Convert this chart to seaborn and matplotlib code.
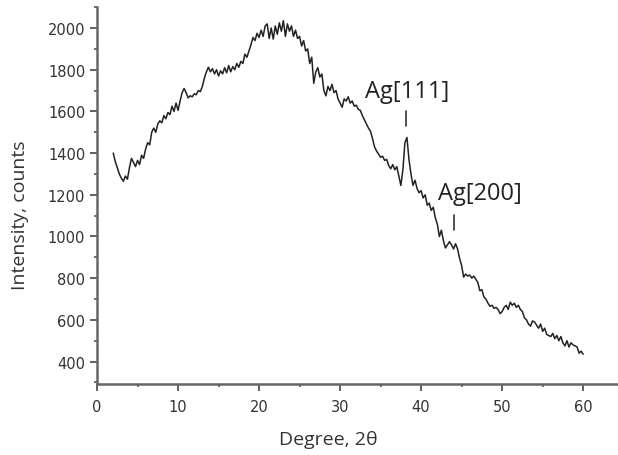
import numpy as np
import pandas as pd
import matplotlib
matplotlib.use("Agg")
import matplotlib.pyplot as plt
from matplotlib.ticker import MultipleLocator
import seaborn as sns

# ---- data ----
deg_start, deg_step = 2.0, 0.25
intensity = [
    1400, 1360, 1330, 1300,
    1280, 1265, 1290, 1275,
    1330, 1375, 1355, 1335,
    1365, 1345, 1390, 1375,
    1420, 1450, 1440, 1500,
    1520, 1500, 1540, 1555,
    1545, 1580, 1565, 1595,
    1585, 1625, 1600, 1640,
    1605, 1650, 1690, 1710,
    1690, 1665, 1675, 1670,
    1685, 1680, 1700, 1695,
    1720, 1760, 1790, 1812,
    1790, 1805, 1780, 1800,
    1770, 1795, 1780, 1810,
    1785, 1820, 1790, 1815,
    1800, 1830, 1812, 1840,
    1830, 1875, 1860, 1890,
    1920, 1955, 1940, 1975,
    1955, 1990, 1960, 2010,
    2020, 1950, 2000, 1947,
    2010, 1970, 2025, 1985,
    2035, 1960, 2020, 1985,
    2010, 1960, 1990, 1950,
    1960, 1914, 1940, 1890,
    1900, 1830, 1860, 1735,
    1790, 1810, 1765, 1780,
    1700, 1675, 1720, 1700,
    1730, 1690, 1700, 1660,
    1640, 1620, 1660, 1650,
    1670, 1640, 1650, 1625,
    1630, 1610, 1605, 1580,
    1560, 1540, 1520, 1505,
    1470, 1430, 1410, 1395,
    1380, 1385, 1365, 1370,
    1340, 1325, 1345, 1320,
    1335, 1290, 1245, 1320,
    1450, 1475, 1370, 1300,
    1245, 1270, 1230, 1210,
    1220, 1185, 1200, 1150,
    1160, 1125, 1140, 1090,
    1060, 1000, 1030, 980,
    945, 960, 975, 960,
    940, 965, 940, 895,
    860, 805, 820, 810,
    815, 800, 810, 795,
    780, 740, 745, 710,
    700, 680, 665, 670,
    655, 660, 650, 630,
    640, 660, 670, 650,
    685, 670, 680, 660,
    670, 650, 640, 610,
    600, 580, 570, 595,
    590, 575, 560, 580,
    545, 560, 530, 525,
    520, 535, 510, 525,
    500, 520, 490, 475,
    500, 470, 490, 480,
    475, 470, 440, 450,
    435,
]
degree = deg_start + deg_step * np.arange(len(intensity))

peak_labels = ["Ag[111]", "Ag[200]"]
peak_pos = [38.15, 44.1]
peak_tick_low = [1530, 1030]
peak_tick_high = [1600, 1105]
label_x = [33.1, 42.1]
label_y = [1670, 1180]

xticks = [0, 10, 20, 30, 40, 50, 60]
yticks = [400, 600, 800, 1000, 1200, 1400, 1600, 1800, 2000]

df = pd.DataFrame({"Degree": degree, "Intensity": intensity})

# ---- style ----
sns.set_style("ticks")
plt.rcParams["font.family"] = ["DejaVu Sans"]
label_font = ["Open Sans", "DejaVu Sans"]

fig = plt.figure(figsize=(6.18, 4.56), dpi=100)
ax = fig.add_axes([0.157, 0.156, 0.843, 0.826])

sns.lineplot(data=df, x="Degree", y="Intensity", ax=ax, color="#222222",
             linewidth=1.1, estimator=None, sort=False)

for lab, px, lo, hi, tx, ty in zip(peak_labels, peak_pos, peak_tick_low,
                                   peak_tick_high, label_x, label_y):
    ax.plot([px, px], [lo, hi], color="#333333", linewidth=1.2)
    ax.text(tx, ty, lab, fontsize=17, family=label_font,
            color="#222222", ha="left", va="baseline")

ax.set_xlim(0, 64.3)
ax.set_ylim(293, 2100)
ax.set_xticks(xticks)
ax.set_yticks(yticks)
ax.xaxis.set_minor_locator(MultipleLocator(5))
ax.yaxis.set_minor_locator(MultipleLocator(100))

for s in ["top", "right"]:
    ax.spines[s].set_visible(False)
for s in ["left", "bottom"]:
    ax.spines[s].set_color("#666666")
    ax.spines[s].set_linewidth(1.8)

ax.tick_params(axis="both", which="major", direction="out", length=5,
               width=1.3, color="#555555", labelsize=10.5, labelcolor="#333333")
ax.tick_params(axis="both", which="minor", direction="out", length=2.5,
               width=1.2, color="#555555")
ax.tick_params(axis="x", which="major", pad=6)
ax.tick_params(axis="y", which="major", pad=3.5)

ax.set_xlabel("Degree, 2θ", fontsize=14, family=label_font, color="#333333")
ax.set_ylabel("Intensity, counts", fontsize=14, family=label_font, color="#333333")
ax.xaxis.label.set_va("center")
ax.yaxis.label.set_va("center")
ax.xaxis.set_label_coords(0.444, -0.146)
ax.yaxis.set_label_coords(-0.148, 0.451)

fig.savefig("out.png", dpi=100)
